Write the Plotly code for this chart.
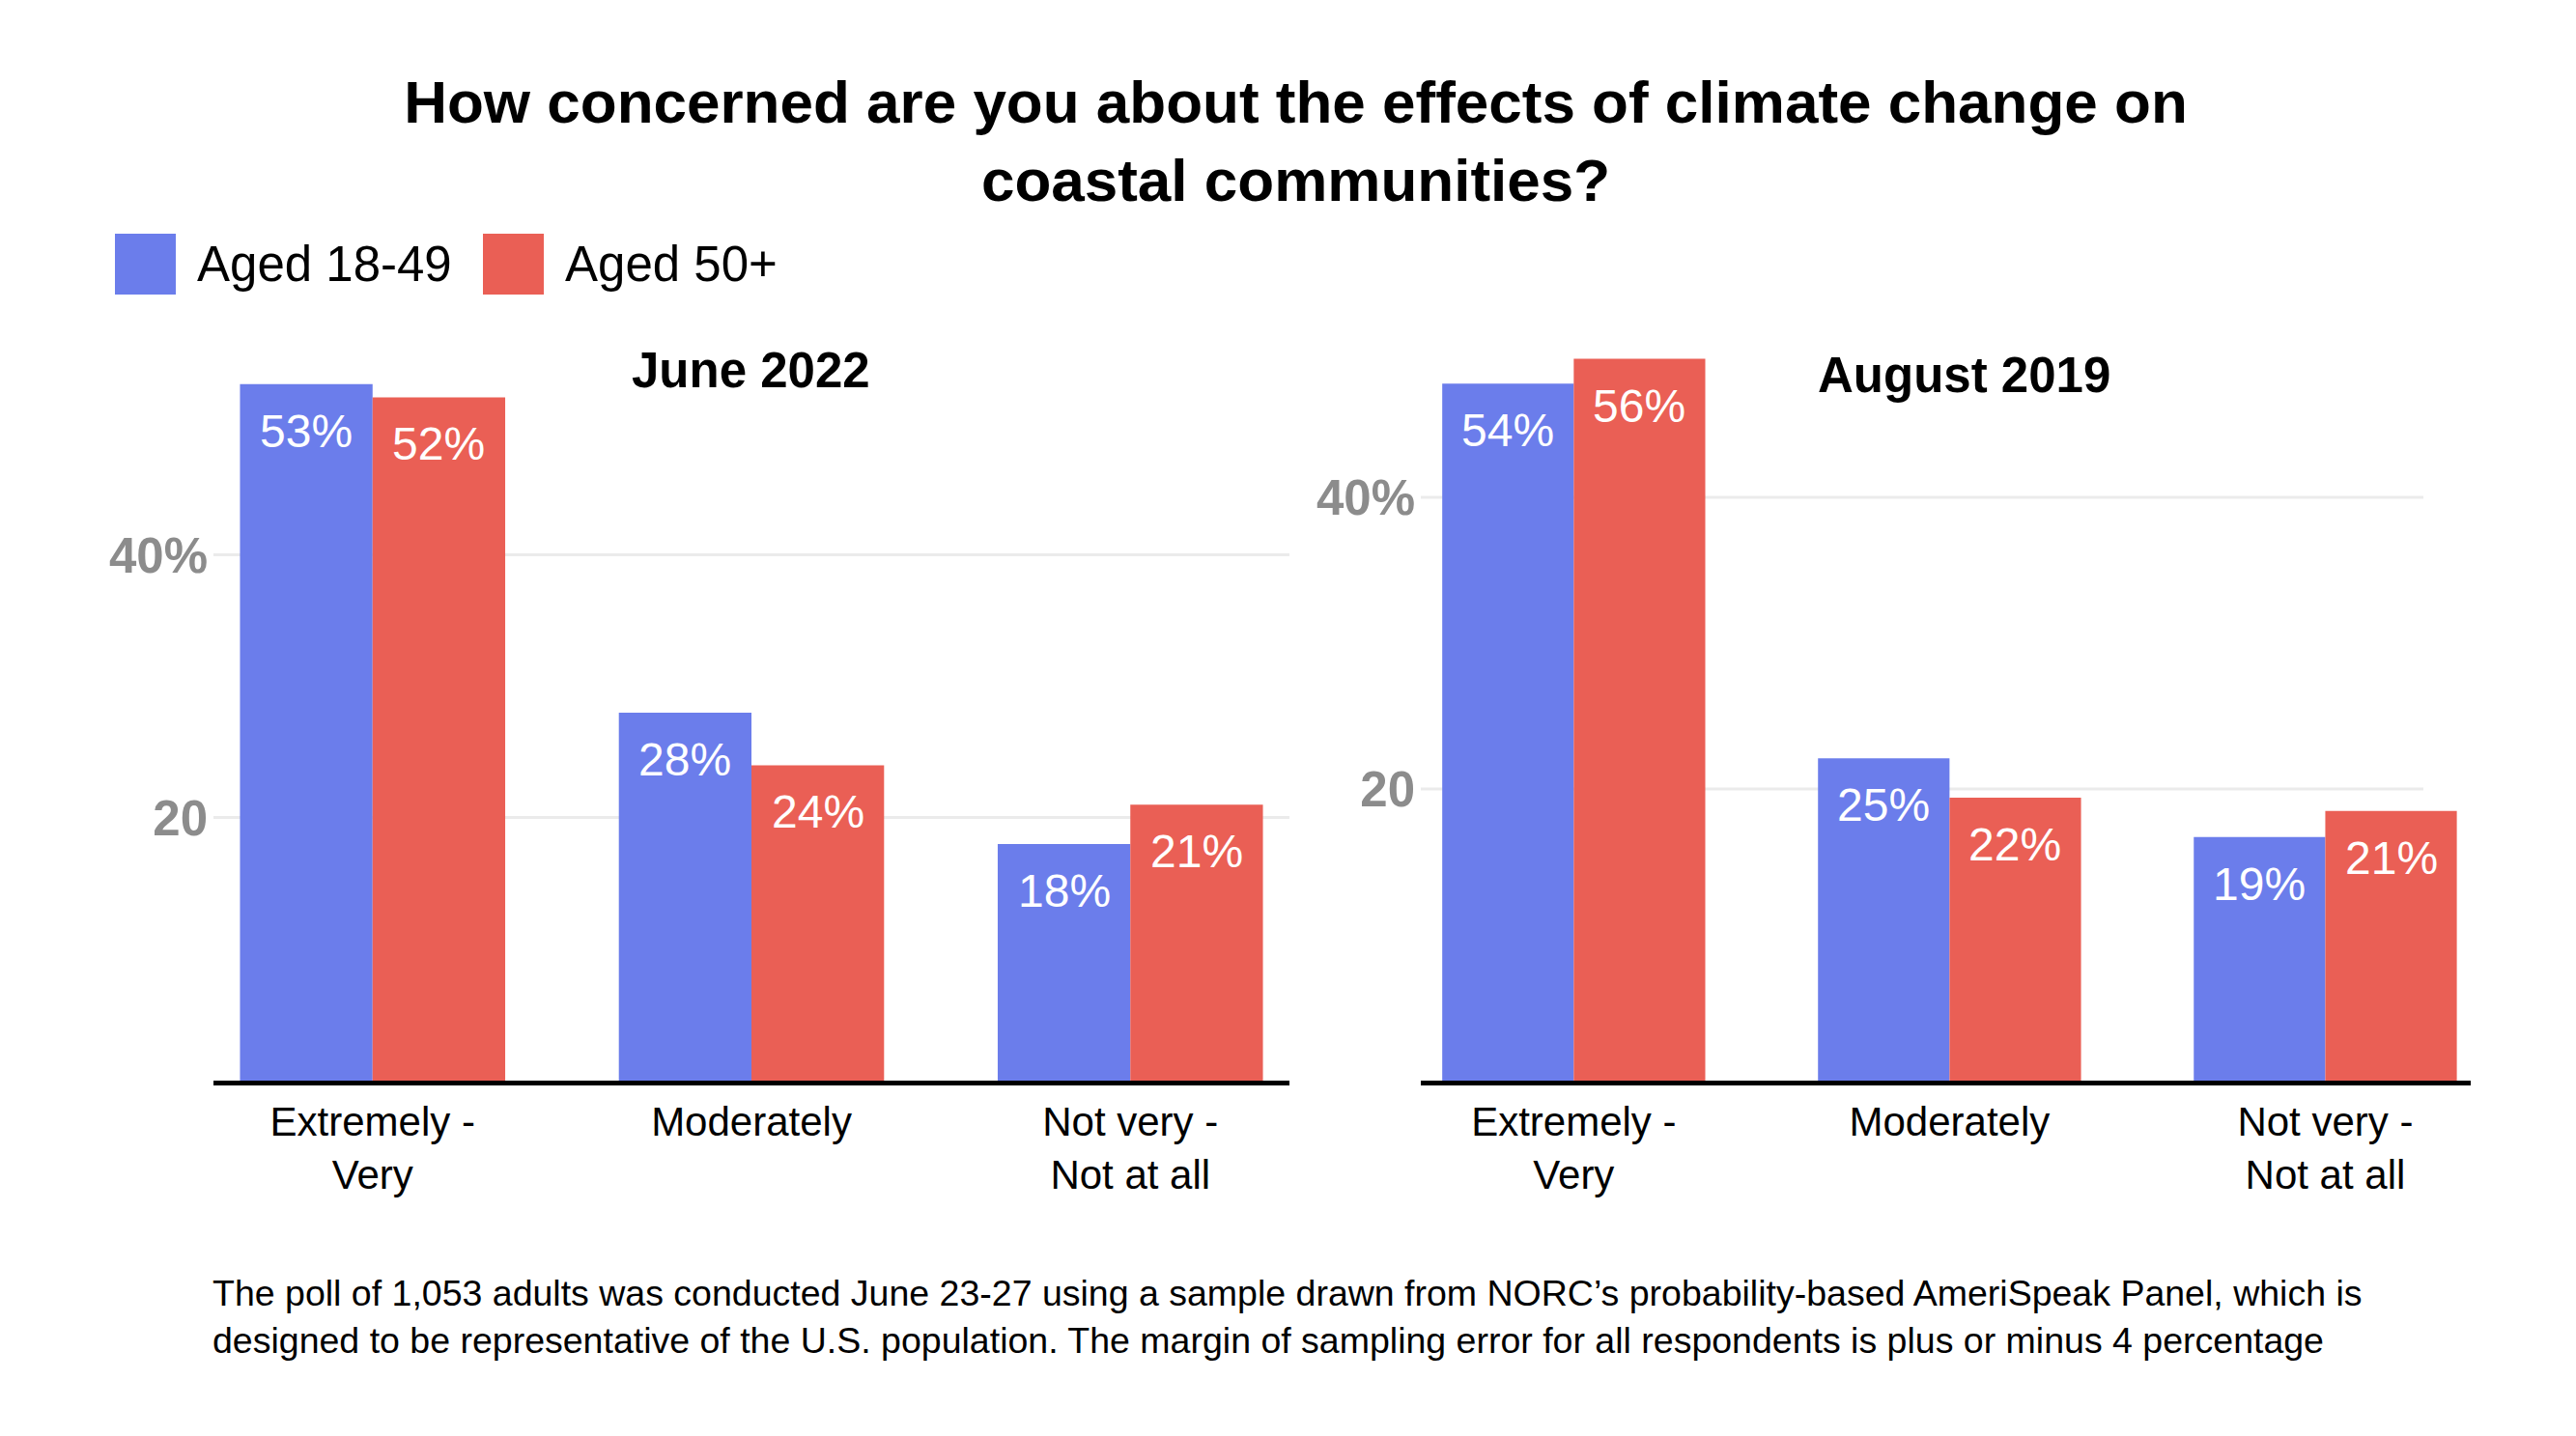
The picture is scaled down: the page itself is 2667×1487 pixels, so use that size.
import plotly.graph_objects as go

# ---------------- data ----------------
categories = ["Extremely -<br>Very", "Moderately", "Not very -<br>Not at all"]
series_names = ["Aged 18-49", "Aged 50+"]

june_2022_18_49 = [53, 28, 18]
june_2022_50_plus = [52, 24, 21]
june_2022_18_49_labels = ["53%", "28%", "18%"]
june_2022_50_plus_labels = ["52%", "24%", "21%"]

# August 2019 bar heights as read against that panel's own axis,
# with the percentage labels printed on the bars
aug_2019_18_49 = [47.8, 22.1, 16.7]
aug_2019_50_plus = [49.5, 19.4, 18.5]
aug_2019_18_49_labels = ["54%", "25%", "19%"]
aug_2019_50_plus_labels = ["56%", "22%", "21%"]

ytick_vals = [20, 40]
ytick_text = ["20", "40%"]

title_text = ("How concerned are you about the effects of climate change on"
              "<br>coastal communities?")
panel_titles = ["June 2022", "August 2019"]
footnote = ("The poll of 1,053 adults was conducted June 23-27 using a sample drawn from "
            "NORC\u2019s probability-based AmeriSpeak Panel, which is<br>designed to be "
            "representative of the U.S. population. The margin of sampling error for all "
            "respondents is plus or minus 4 percentage")

# ---------------- style ----------------
W, H = 2667, 1487
OFF = 8  # page body margin
FONT = "Liberation Sans"
BLUE = "#6B7DEB"
RED = "#EA5F55"
GRID = "#ebebeb"
colors = [BLUE, RED]
BARGAP = 0.3


def px_x(v):
    return (v - OFF) / W


def px_y(v):
    return 1 - (v - OFF) / H


fig = go.Figure()

panels = [
    ("x", "y", [june_2022_18_49, june_2022_50_plus],
     [june_2022_18_49_labels, june_2022_50_plus_labels]),
    ("x2", "y2", [aug_2019_18_49, aug_2019_50_plus],
     [aug_2019_18_49_labels, aug_2019_50_plus_labels]),
]

bar_w = (1 - BARGAP) / 2
for xa, ya, series, labels in panels:
    for k, (name, vals, labs, col) in enumerate(zip(series_names, series, labels, colors)):
        fig.add_trace(go.Bar(
            x=categories, y=vals, name=name,
            marker=dict(color=col, line=dict(width=0)),
            xaxis=xa, yaxis=ya, showlegend=False, hoverinfo="skip",
        ))
        shift = (k - 0.5) * bar_w
        for i, (v, lab) in enumerate(zip(vals, labs)):
            fig.add_annotation(
                text=lab, x=i + shift, y=v, xref=xa, yref=ya,
                showarrow=False, xanchor="center", yanchor="top", yshift=-20,
                font=dict(family=FONT, size=48, color="white"),
            )

xcommon = dict(
    type="category", showline=True, linecolor="black", linewidth=5,
    showgrid=False, ticks="", zeroline=False, ticklabelstandoff=2,
    tickfont=dict(family=FONT, size=42, color="black"),
    fixedrange=True,
)
ycommon = dict(
    tickvals=ytick_vals, ticktext=ytick_text,
    gridcolor=GRID, gridwidth=3,
    zeroline=False, showline=False, ticks="", ticklabelstandoff=5,
    tickfont=dict(family=FONT, size=51, color="#8c8c8c", weight="bold"),
    fixedrange=True,
)

ydom = [px_y(1119), px_y(357)]

fig.update_layout(
    width=W, height=H,
    paper_bgcolor="white", plot_bgcolor="white",
    margin=dict(l=0, r=0, t=0, b=0),
    barmode="group", bargap=BARGAP, bargroupgap=0,
    showlegend=False,
    font=dict(family=FONT),
    title=dict(
        text=title_text, x=0.5, xanchor="center",
        xref="paper", yref="container", y=px_y(127), yanchor="middle",
        font=dict(family=FONT, size=62, color="black", weight="bold"),
    ),
    xaxis=dict(domain=[px_x(221), px_x(1335)], range=[-0.42, 2.42], anchor="y", **xcommon),
    yaxis=dict(domain=ydom, range=[0, 56], anchor="x", showgrid=True, **ycommon),
    xaxis2=dict(domain=[px_x(1471), px_x(2558)], range=[-0.407, 2.387], anchor="y2", **xcommon),
    yaxis2=dict(domain=ydom, range=[0, 50.46], anchor="x2", showgrid=False, **ycommon),
)

# right panel gridlines stop short of the axis line's right end
for v in ytick_vals:
    fig.add_shape(type="line", xref="x2 domain", yref="y2",
                  x0=0, x1=(2509 - 1471) / (2558 - 1471), y0=v, y1=v,
                  line=dict(color=GRID, width=3), layer="below")

# panel titles
fig.add_annotation(text=panel_titles[0], x=px_x(777), y=px_y(383), xref="paper", yref="paper",
                   showarrow=False, xanchor="center", yanchor="middle",
                   font=dict(family=FONT, size=51, color="black", weight="bold"))
fig.add_annotation(text=panel_titles[1], x=px_x(2033), y=px_y(389), xref="paper", yref="paper",
                   showarrow=False, xanchor="center", yanchor="middle",
                   font=dict(family=FONT, size=51, color="black", weight="bold"))

# legend (drawn manually for large swatches)
legend_items = [(119, 202), (500, 583)]
for (sx, tx), name, col in zip(legend_items, series_names, colors):
    fig.add_shape(type="rect", xref="paper", yref="paper",
                  x0=px_x(sx), x1=px_x(sx + 63), y0=px_y(305), y1=px_y(242),
                  fillcolor=col, line=dict(width=0))
    fig.add_annotation(text=name, x=px_x(tx), y=px_y(273), xref="paper", yref="paper",
                       showarrow=False, xanchor="left", yanchor="middle",
                       font=dict(family=FONT, size=51, color="black"))

# footnote
fig.add_annotation(text=footnote, x=px_x(218), y=px_y(1363), xref="paper", yref="paper",
                   showarrow=False, xanchor="left", yanchor="middle", align="left",
                   font=dict(family=FONT, size=37.5, color="black"))

fig.write_html("out.html")
